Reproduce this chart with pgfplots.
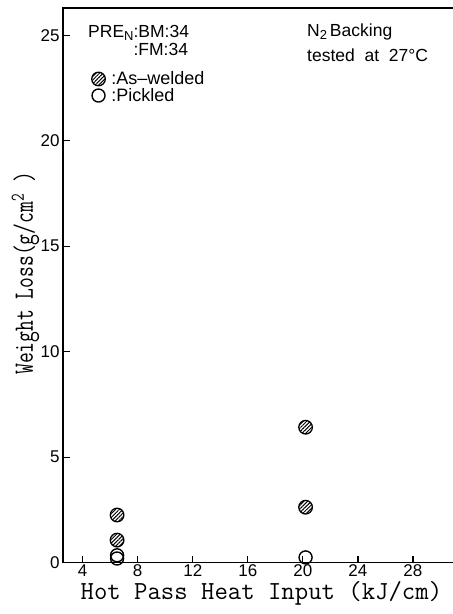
\documentclass[border=0pt]{standalone}
\usepackage{fontspec}
\setmainfont{Liberation Sans}
\usepackage{pgfplots}
\pgfplotsset{compat=1.18}
\usetikzlibrary{patterns.meta}
\newcommand{\sub}[1]{\raisebox{-2.5pt}{\fontsize{13}{15}\selectfont #1}}
\begin{document}
\begin{tikzpicture}
\begin{axis}[
  scale only axis, width=400pt, height=554.7pt,
  xmin=2.57, xmax=31.64, ymin=0, ymax=26.29,
  xtick={4,8,...,28}, ytick={0,5,...,25},
  tick pos=left, tick align=inside, major tick length=7pt,
  axis line style={line width=1.5pt},
  every tick/.style={line width=1.3pt, black},
  tick label style={font=\fontsize{17}{20}\selectfont},
  xticklabel style={inner sep=1.5pt},
  /pgf/number format/assume math mode=true,
  xlabel={\fontsize{26}{30}\ttfamily Hot Pass Heat Input (kJ/cm)},
  ylabel={\scalebox{0.75}[1]{\fontsize{28}{32}\ttfamily Weight Loss(g/cm\textsuperscript{2} )}},
  every axis x label/.style={at={([yshift=-37pt]axis description cs:0.496,0)}, anchor=base},
  every axis y label/.style={at={([xshift=-30pt]axis description cs:0,0.5214)}, rotate=90, anchor=base},
  legend cell align=left,
  legend style={at={(axis description cs:0.0713,0.8873)}, anchor=north west, draw=none, fill=none,
    font=\fontsize{18}{21}\selectfont, inner sep=0pt, row sep=0pt, column sep=5pt,
    nodes={inner sep=1pt}},
  legend image code/.code={\draw[#1, only marks] plot coordinates {(6.5pt,0pt)};},
]
\addplot[only marks, mark=*, mark size=6.8pt,
  mark options={line width=1.3pt, draw=black, pattern={Lines[angle=45, distance=2.6pt, line width=1pt]}}]
  coordinates {(6.5,2.26) (6.5,1.07) (20.2,6.42) (20.2,2.63)};
\addlegendentry{:As–welded}
\addplot[only marks, mark=o, mark size=6.5pt, mark options={line width=1.4pt, draw=black, fill=white}]
  coordinates {(6.5,0.35) (6.5,0.2) (20.2,0.25)};
\addlegendentry{:Pickled}
\end{axis}
\begin{scope}[every node/.style={anchor=base west, inner sep=0pt, font=\fontsize{17.5}{20}\selectfont}]
\node at (25pt,525pt) {PRE\sub{N}:BM:34};
\node at (25pt,507.5pt) {\phantom{PRE\sub{N}}:FM:34};
\node at (244pt,526pt) {N\sub{2}\,Backing};
\node at (244pt,501pt) {tested\ \ at\ \ 27°C};
\end{scope}
\pgfresetboundingbox
\useasboundingbox (-63pt,-51.3pt) rectangle (390pt,562.7pt);
\end{tikzpicture}
\end{document}
